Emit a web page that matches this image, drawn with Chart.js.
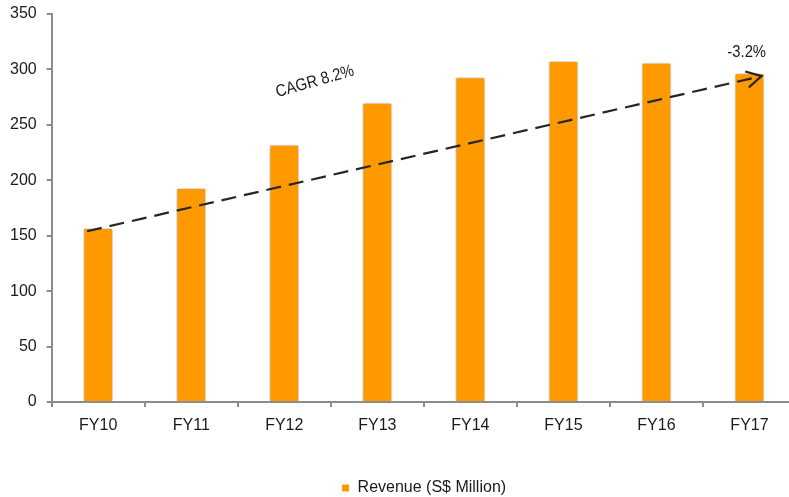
<!DOCTYPE html>
<html>
<head>
<meta charset="utf-8">
<script src="https://cdn.jsdelivr.net/npm/chart.js@4/dist/chart.umd.min.js"></script>
<style>
	html, body { margin: 0; padding: 0; background: #fff; overflow: hidden; }
	#wrap { width: 796px; height: 497px; position: relative; }
</style>
</head>
<body>
<div id="wrap"><canvas id="revChart"></canvas></div>
<script>
const FONT = "'Liberation Sans', Arial, sans-serif";

const years = ['FY10', 'FY11', 'FY12', 'FY13', 'FY14', 'FY15', 'FY16', 'FY17'];
const revenue = [157, 193, 232, 270, 293, 307.5, 306, 296.5];
const seriesLabel = 'Revenue (S$ Million)';

// trend arrow, in (category index, value)
const trendFrom = [-0.12, 154];
const trendTo = [7.13, 294];
const cagrText = 'CAGR 8.2%';
const cagrAt = [2.33, 289];
const lastText = '-3.2%';
const lastAt = [6.97, 315];

function narrowText(ctx, text, x, y, rot) {
	ctx.save();
	ctx.fillStyle = '#1a1a1a';
	ctx.font = '17px ' + FONT;
	ctx.textAlign = 'center';
	ctx.textBaseline = 'middle';
	ctx.translate(x, y);
	ctx.rotate(rot * Math.PI / 180);
	ctx.scale(0.87, 1);
	ctx.fillText(text, 0, 0);
	ctx.restore();
}

const trendPlugin = {
	id: 'trend',
	beforeDatasetDraw(chart) {
		const ctx = chart.ctx;
		ctx.save();
		ctx.shadowColor = 'rgba(0,0,0,0.35)';
		ctx.shadowBlur = 4;
		ctx.shadowOffsetX = 0;
		ctx.shadowOffsetY = 0;
	},
	afterDatasetDraw(chart) {
		chart.ctx.restore();
	},
	afterDatasetsDraw(chart) {
		const ctx = chart.ctx;
		const xs = chart.scales.x;
		const ys = chart.scales.y;
		let x1 = xs.getPixelForValue(trendFrom[0]);
		let y1 = ys.getPixelForValue(trendFrom[1]);
		let x2 = xs.getPixelForValue(trendTo[0]);
		let y2 = ys.getPixelForValue(trendTo[1]);

		ctx.save();
		ctx.strokeStyle = '#262626';
		ctx.lineWidth = 2.2;
		ctx.setLineDash([15, 8]);
		ctx.beginPath();
		ctx.moveTo(x1, y1);
		ctx.lineTo(x2, y2);
		ctx.stroke();

		// open arrow head
		let ang = Math.atan2(y2 - y1, x2 - x1);
		let len = 17;
		ctx.setLineDash([]);
		ctx.beginPath();
		ctx.moveTo(x2 + len * Math.cos(ang + Math.PI - 0.5), y2 + len * Math.sin(ang + Math.PI - 0.5));
		ctx.lineTo(x2, y2);
		ctx.lineTo(x2 + len * Math.cos(ang + Math.PI + 0.5), y2 + len * Math.sin(ang + Math.PI + 0.5));
		ctx.stroke();
		ctx.restore();

		narrowText(ctx, cagrText, xs.getPixelForValue(cagrAt[0]), ys.getPixelForValue(cagrAt[1]), -16);
		narrowText(ctx, lastText, xs.getPixelForValue(lastAt[0]), ys.getPixelForValue(lastAt[1]), 0);
	}
};

function renderChart() {
	const ctx = document.getElementById('revChart');
	const data = {
		labels: years,
		datasets: [
			{
				label: seriesLabel,
				data: revenue,
				backgroundColor: '#FF9900',
				borderColor: '#ffffff',
				borderWidth: 1,
				barPercentage: 0.32,
				categoryPercentage: 1
			}
		]
	};
	const config = {
		type: 'bar',
		data: data,
		plugins: [trendPlugin],
		options: {
			responsive: true,
			maintainAspectRatio: false,
			animation: false,
			layout: {
				padding: { left: 0, right: 0, top: 14, bottom: -9 }
			},
			plugins: {
				tooltip: { enabled: false },
				legend: {
					position: 'bottom',
					fullSize: false,
					labels: {
						boxWidth: 8,
						boxHeight: 8,
						color: '#1a1a1a',
						padding: 0,
						font: { family: FONT, size: 16 }
					}
				}
			},
			scales: {
				x: {
					afterFit(scale) {
						scale.height = 78;
					},
					grid: {
						drawOnChartArea: false,
						drawTicks: true,
						tickLength: 5,
						color: '#8c8c8c',
						lineWidth: 2,
						offset: true
					},
					border: { color: '#8c8c8c', width: 2 },
					ticks: {
						color: '#1a1a1a',
						padding: 9,
						font: { family: FONT, size: 16 }
					}
				},
				y: {
					min: 0,
					max: 350,
					afterFit(scale) {
						scale.paddingTop = 0;
					},
					grid: {
						drawOnChartArea: false,
						drawTicks: true,
						tickLength: 5,
						color: '#8c8c8c',
						lineWidth: 2
					},
					border: { color: '#8c8c8c', width: 2 },
					ticks: {
						stepSize: 50,
						color: '#1a1a1a',
						padding: 10,
						font: { family: FONT, size: 16 }
					}
				}
			}
		}
	};
	new Chart(ctx, config);
}

renderChart();
</script>
</body>
</html>
